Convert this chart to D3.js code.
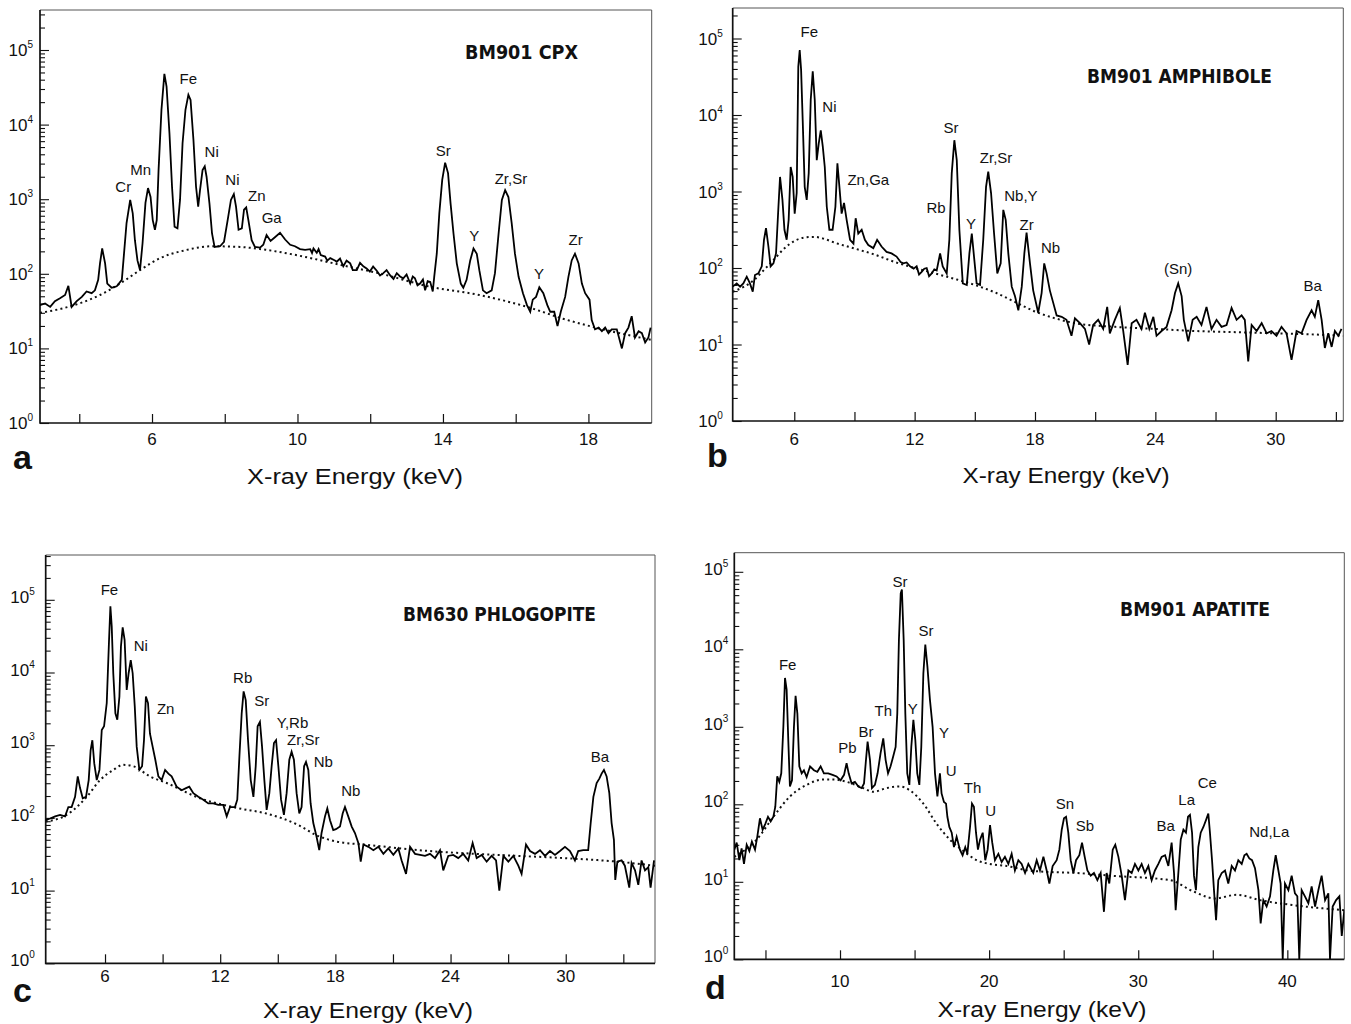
<!DOCTYPE html>
<html>
<head>
<meta charset="utf-8">
<script src="https://cdn.jsdelivr.net/npm/d3@7"></script>
<style>
  body { margin: 0; background: #fff; }
  svg text { font-family: "Liberation Sans", Arial, Helvetica, sans-serif; fill: #111; }
</style>
</head>
<body>
<svg id="fig" width="1351" height="1024"></svg>
<script>
// ---- data: [keV, counts] ----

// a) BM901 CPX
const cpxSpectrum = [[2.92,38],[3.06,40],[3.20,36],[3.33,43],[3.47,47],[3.61,52],[3.70,69],[3.79,36],[3.93,43],[4.07,49],[4.20,58],[4.34,55],[4.43,60],[4.52,83],[4.57,138],[4.63,219],[4.71,138],[4.77,74],[4.89,65],[5.03,68],[5.17,83],[5.23,186],[5.30,479],[5.40,977],[5.47,646],[5.53,282],[5.60,151],[5.67,112],[5.74,257],[5.82,891],[5.89,1410],[5.96,1070],[6.02,525],[6.08,389],[6.13,525],[6.18,2450],[6.26,15800],[6.34,47900],[6.40,32400],[6.48,7590],[6.55,1480],[6.62,427],[6.70,407],[6.77,977],[6.84,5620],[6.92,15800],[7.00,25100],[7.06,21400],[7.14,6170],[7.21,1480],[7.27,794],[7.32,1320],[7.39,2450],[7.45,2750],[7.50,2000],[7.58,871],[7.65,347],[7.72,229],[7.87,234],[7.98,269],[8.08,525],[8.17,977],[8.25,1170],[8.31,794],[8.38,389],[8.47,407],[8.53,724],[8.59,776],[8.65,525],[8.74,282],[8.83,229],[8.97,224],[9.06,245],[9.15,331],[9.26,275],[9.38,309],[9.52,355],[9.66,288],[9.80,245],[9.93,234],[10.07,214],[10.21,209],[10.35,214],[10.40,190],[10.44,219],[10.53,191],[10.58,215],[10.64,178],[10.76,170],[10.82,150],[10.90,162],[11.03,151],[11.08,145],[11.17,160],[11.26,126],[11.35,150],[11.45,138],[11.52,112],[11.63,112],[11.72,140],[11.81,126],[11.90,118],[11.99,107],[12.08,125],[12.18,110],[12.27,95],[12.36,102],[12.45,112],[12.55,95],[12.64,85],[12.73,102],[12.82,92],[12.91,87],[13.00,98],[13.10,74],[13.17,92],[13.23,87],[13.30,70],[13.37,74],[13.45,84],[13.51,60],[13.58,80],[13.65,78],[13.72,58],[13.76,91],[13.83,186],[13.90,646],[13.98,1820],[14.06,3090],[14.14,2240],[14.21,871],[14.29,347],[14.38,138],[14.49,74],[14.56,65],[14.65,83],[14.75,151],[14.84,219],[14.93,186],[15.00,112],[15.10,60],[15.20,55],[15.34,60],[15.43,102],[15.53,347],[15.62,977],[15.71,1320],[15.80,1070],[15.89,479],[15.98,186],[16.08,91],[16.20,55],[16.31,38],[16.40,31],[16.47,45],[16.56,49],[16.65,66],[16.76,55],[16.87,38],[16.95,31],[17.06,31],[17.15,20],[17.24,31],[17.36,49],[17.45,91],[17.54,151],[17.63,186],[17.73,138],[17.82,74],[17.91,55],[18.03,45],[18.09,24],[18.18,18],[18.28,19],[18.37,17],[18.46,19],[18.55,16],[18.64,18],[18.78,18],[18.92,10],[19.01,16],[19.10,19],[19.19,27],[19.28,14],[19.38,17],[19.47,16],[19.56,12],[19.65,14],[19.71,19]];
const cpxBackground = [[2.92,30],[3.5,34],[4.0,40],[4.57,52],[5.12,74],[5.67,112],[6.22,162],[6.86,204],[7.69,234],[8.42,229],[9.15,209],[10.07,174],[11.17,132],[12.3,100],[13.65,67],[15.0,52],[16.4,35],[17.3,25],[18.2,19],[19.74,13]];
const cpxLabels = [["Cr",5.21,1260],["Mn",5.69,2090],["Fe",7.00,35500],["Ni",7.64,3630],["Ni",8.21,1550],["Zn",8.88,933],["Ga",9.29,479],["Sr",14.01,3800],["Y",14.86,275],["Zr,Sr",15.87,1580],["Y",16.64,85],["Zr",17.65,245]];
const cpxTicks = [4,6,8,10,12,14,16,18];
const cpxTickLabels = [6,10,14,18];

// b) BM901 AMPHIBOLE
const amphSpectrum = [[2.93,57],[3.13,63],[3.30,57],[3.46,63],[3.63,77],[3.79,63],[3.93,49],[4.04,81],[4.21,85],[4.38,105],[4.49,234],[4.59,331],[4.71,191],[4.82,105],[4.96,115],[5.09,155],[5.21,631],[5.29,1550],[5.41,776],[5.51,316],[5.62,234],[5.72,427],[5.82,2090],[5.92,1550],[6.02,513],[6.12,955],[6.20,42700],[6.27,70800],[6.34,38900],[6.42,8510],[6.52,1150],[6.62,776],[6.72,1740],[6.82,15800],[6.92,37200],[7.02,15800],[7.12,2570],[7.22,4270],[7.32,6310],[7.42,3890],[7.52,2090],[7.62,631],[7.75,316],[7.91,316],[8.05,631],[8.15,2340],[8.25,1150],[8.36,513],[8.48,708],[8.61,427],[8.78,234],[8.95,209],[9.06,447],[9.19,282],[9.36,316],[9.52,234],[9.69,200],[9.94,182],[10.13,234],[10.35,191],[10.60,162],[10.85,155],[11.10,141],[11.30,120],[11.44,115],[11.60,118],[11.77,105],[11.95,98],[12.10,105],[12.22,82],[12.35,89],[12.48,98],[12.60,100],[12.72,78],[12.85,85],[12.98,96],[13.10,93],[13.27,155],[13.40,105],[13.60,85],[13.73,234],[13.85,1740],[13.98,4680],[14.10,2570],[14.23,316],[14.40,63],[14.60,60],[14.73,155],[14.85,282],[14.96,141],[15.09,63],[15.26,60],[15.42,234],[15.56,1150],[15.67,1820],[15.81,955],[15.96,282],[16.12,85],[16.29,115],[16.42,575],[16.54,427],[16.67,155],[16.84,57],[17.00,43],[17.17,28],[17.34,57],[17.47,155],[17.58,290],[17.75,115],[17.91,51],[18.16,26],[18.33,47],[18.46,115],[18.58,85],[18.74,51],[18.91,35],[19.08,24],[19.33,23],[19.57,21],[19.82,13],[19.99,22],[20.24,19],[20.49,16],[20.70,10],[20.90,18],[21.15,21],[21.40,16],[21.60,31],[21.73,14],[21.98,21],[22.23,30],[22.40,15],[22.62,5.4],[22.82,19],[23.06,21],[23.31,16],[23.48,26],[23.70,16],[23.90,23],[24.06,13],[24.31,15],[24.56,17],[24.81,28],[24.98,47],[25.14,63],[25.31,43],[25.42,21],[25.64,11],[25.86,21],[26.06,23],[26.30,18],[26.55,31],[26.80,16],[27.05,21],[27.30,17],[27.55,18],[27.80,30],[28.05,21],[28.30,24],[28.46,21],[28.63,6],[28.80,18],[29.05,15],[29.30,19],[29.55,14],[29.79,15],[30.04,13],[30.29,17],[30.54,14],[30.79,6.3],[31.04,15],[31.29,14],[31.54,21],[31.79,28],[31.95,23],[32.12,38],[32.29,21],[32.45,9],[32.62,14],[32.79,9.3],[32.95,15],[33.12,13],[33.28,16]];
const amphBackground = [[2.93,49],[4.0,70],[4.5,95],[5.0,130],[5.5,180],[6.0,225],[6.5,250],[7.0,255],[7.5,240],[8.0,215],[9.0,180],[10.0,150],[11.0,120],[12.0,100],[13.0,85],[14.0,72],[15.0,60],[16.0,48],[17.0,36],[18.0,27],[19.0,22],[20.0,19],[22.0,17],[24.0,16],[26.0,15],[28.0,14.5],[30.0,14],[32.0,13.5],[33.37,13]];
const amphLabels = [["Fe",6.75,105000],["Ni",7.75,11000],["Zn,Ga",9.69,1230],["Rb",13.07,525],["Sr",13.81,5750],["Y",14.81,324],["Zr,Sr",16.06,2340],["Nb,Y",17.30,759],["Zr",17.58,316],["Nb",18.78,158],["(Sn)",25.14,83],["Ba",31.84,50]];
const amphTicks = [6,9,12,15,18,21,24,27,30,33];
const amphTickLabels = [6,12,18,24,30];

// c) BM630 PHLOGOPITE
const phlogSpectrum = [[2.91,93],[3.14,98],[3.40,105],[3.66,110],[3.92,105],[4.09,141],[4.26,141],[4.44,195],[4.58,372],[4.70,257],[4.84,186],[5.01,195],[5.15,331],[5.25,851],[5.34,1170],[5.44,562],[5.57,331],[5.71,457],[5.83,1620],[5.95,1820],[6.09,3800],[6.21,28200],[6.28,81300],[6.35,42700],[6.43,9770],[6.54,2750],[6.64,2240],[6.75,4680],[6.83,22900],[6.92,41700],[7.02,28200],[7.13,5750],[7.23,9770],[7.34,14800],[7.44,9770],[7.55,3390],[7.65,955],[7.79,457],[7.93,513],[8.03,1170],[8.13,4680],[8.24,3800],[8.34,1450],[8.48,955],[8.62,631],[8.78,372],[8.95,331],[9.13,457],[9.30,407],[9.47,372],[9.73,269],[9.99,240],[10.22,257],[10.39,269],[10.60,219],[10.86,195],[11.12,178],[11.38,158],[11.64,158],[11.90,151],[12.16,151],[12.34,105],[12.51,141],[12.77,141],[12.89,178],[13.00,692],[13.12,2750],[13.22,5500],[13.33,4170],[13.45,1170],[13.59,331],[13.73,195],[13.85,513],[13.95,1820],[14.07,2090],[14.18,955],[14.30,331],[14.42,129],[14.56,219],[14.68,513],[14.80,1070],[14.91,1170],[15.03,513],[15.17,178],[15.32,110],[15.46,219],[15.60,631],[15.72,813],[15.84,631],[15.98,219],[16.12,115],[16.24,141],[16.37,513],[16.47,589],[16.59,457],[16.71,158],[16.85,85],[17.02,55],[17.16,36],[17.28,62],[17.46,105],[17.58,135],[17.72,93],[17.89,68],[18.03,70],[18.24,76],[18.38,115],[18.50,141],[18.67,105],[18.85,76],[19.02,62],[19.20,45],[19.32,25],[19.46,43],[19.72,40],[19.98,36],[20.24,40],[20.50,32],[20.76,38],[21.02,31],[21.28,38],[21.45,26],[21.68,17],[21.89,40],[22.15,32],[22.41,31],[22.67,30],[22.93,32],[23.19,28],[23.45,36],[23.62,19],[23.88,30],[24.14,31],[24.40,28],[24.66,32],[24.92,26],[25.15,45],[25.36,28],[25.62,31],[25.88,25],[26.14,30],[26.37,26],[26.54,10],[26.75,30],[27.01,25],[27.27,30],[27.53,22],[27.70,17],[27.93,43],[28.14,35],[28.40,32],[28.66,36],[28.92,30],[29.18,35],[29.44,31],[29.70,35],[29.96,40],[30.22,35],[30.48,26],[30.65,35],[30.91,36],[31.17,36],[31.30,85],[31.44,195],[31.61,302],[31.75,347],[31.87,407],[31.99,457],[32.13,372],[32.27,219],[32.39,85],[32.51,50],[32.58,14],[32.69,25],[32.91,26],[33.08,22],[33.31,11],[33.43,24],[33.61,19],[33.78,12],[33.95,26],[34.13,19],[34.30,21],[34.42,11],[34.60,26]];
const phlogBackground = [[2.91,89],[4.0,110],[5.05,195],[5.74,331],[6.43,457],[6.95,537],[7.48,513],[8.34,372],[9.21,302],[10.95,186],[12.68,141],[13.0,135],[14.4,115],[16.1,79],[17.0,58],[18.1,47],[19.5,43],[22.9,35],[26.4,31],[29.9,28],[32.7,25],[34.65,22]];
const phlogLabels = [["Fe",6.23,117000],["Ni",7.86,20000],["Zn",9.16,2690],["Rb",13.17,7080],["Sr",14.16,3470],["Y,Rb",15.77,1700],["Zr,Sr",16.33,1000],["Nb",17.37,501],["Nb",18.80,200],["Ba",31.78,589]];
const phlogTicks = [6,9,12,15,18,21,24,27,30,33];
const phlogTickLabels = [6,12,18,24,30];

// d) BM901 APATITE
const apatSpectrum = [[2.91,26],[3.07,32],[3.25,19],[3.40,27],[3.56,17],[3.74,30],[3.92,25],[4.09,33],[4.30,26],[4.45,38],[4.63,66],[4.81,47],[4.99,56],[5.17,69],[5.35,60],[5.53,69],[5.66,93],[5.79,229],[5.93,195],[6.06,251],[6.20,1000],[6.31,4270],[6.42,3020],[6.53,676],[6.64,170],[6.78,204],[6.91,1000],[7.02,2510],[7.14,1480],[7.27,309],[7.43,251],[7.58,275],[7.76,224],[7.99,309],[8.25,275],[8.48,263],[8.70,309],[8.92,251],[9.21,251],[9.50,240],[9.77,229],[10.04,204],[10.27,240],[10.44,339],[10.58,251],[10.78,186],[11.00,195],[11.23,170],[11.45,162],[11.61,186],[11.74,372],[11.85,646],[12.01,372],[12.14,162],[12.34,178],[12.52,251],[12.72,457],[12.90,708],[13.06,372],[13.22,251],[13.39,309],[13.57,417],[13.73,550],[13.84,1480],[13.95,13200],[14.07,52500],[14.15,58900],[14.27,13200],[14.38,1480],[14.51,251],[14.65,178],[14.78,550],[14.92,1230],[15.05,676],[15.18,251],[15.32,178],[15.45,550],[15.59,4900],[15.72,11500],[15.86,6030],[16.03,2240],[16.21,1000],[16.37,251],[16.53,126],[16.70,251],[16.81,138],[16.97,107],[17.11,102],[17.20,69],[17.33,51],[17.49,43],[17.64,28],[17.82,38],[18.04,26],[18.22,22],[18.40,28],[18.54,23],[18.72,51],[18.85,102],[18.98,93],[19.12,43],[19.25,26],[19.39,35],[19.57,43],[19.74,19],[19.90,26],[20.06,54],[20.21,32],[20.39,19],[20.62,23],[20.84,18],[21.06,21],[21.29,17],[21.51,23],[21.73,14],[21.96,19],[22.18,17],[22.41,13],[22.63,17],[22.96,13],[23.19,19],[23.41,14],[23.64,21],[23.86,14],[24.04,9.5],[24.26,16],[24.53,19],[24.71,26],[24.87,47],[25.02,66],[25.16,69],[25.31,43],[25.47,19],[25.65,13],[25.83,19],[26.05,22],[26.23,32],[26.41,21],[26.59,14],[26.81,12],[27.03,13],[27.26,10.5],[27.48,13],[27.70,4.1],[27.88,13],[28.06,9.5],[28.29,26],[28.46,30],[28.67,21],[28.89,12],[29.11,5.8],[29.34,14],[29.56,13],[29.78,17],[30.01,14],[30.23,17],[30.45,13],[30.68,16],[30.90,10.5],[31.12,14],[31.35,17],[31.57,21],[31.80,22],[32.02,16],[32.24,32],[32.40,13],[32.51,4.3],[32.69,13],[32.85,35],[33.03,47],[33.20,43],[33.34,69],[33.47,73],[33.61,43],[33.74,12],[33.87,7.8],[34.03,28],[34.19,43],[34.37,51],[34.55,63],[34.70,76],[34.81,43],[34.95,19],[35.08,7.8],[35.22,3.2],[35.37,10.5],[35.60,13],[35.82,14],[36.04,9.5],[36.27,16],[36.49,14],[36.71,19],[36.94,17],[37.12,22],[37.27,23],[37.45,20],[37.63,19],[37.83,15],[38.06,7.8],[38.21,2.9],[38.39,5.8],[38.61,4.8],[38.84,6.5],[39.06,14],[39.22,22],[39.40,14],[39.55,9.5],[39.69,1],[39.84,9.5],[40.07,7.8],[40.29,12],[40.51,7.1],[40.67,6.5],[40.80,1],[40.96,7.8],[41.18,6.5],[41.41,5.3],[41.63,8.7],[41.86,4.8],[42.08,7.8],[42.30,12],[42.53,5.8],[42.75,7.1],[42.86,1],[43.04,4.8],[43.27,5.8],[43.49,6.5],[43.65,2],[43.82,4.3]];
const apatBackground = [[2.91,21],[4.41,35],[5.53,69],[6.64,126],[7.76,178],[8.88,209],[9.55,209],[10.44,195],[11.56,162],[12.23,145],[13.13,162],[14.02,170],[14.69,151],[15.59,102],[16.48,56],[17.37,35],[18.27,25],[19.16,19],[20.06,17],[21.18,16],[22.63,14],[23.64,13.5],[25.87,13],[28.11,12],[32.13,10.5],[33.7,7.5],[35.15,6.1],[36.6,6.8],[38.17,5.8],[40.4,5],[43.8,4.3]];
const apatLabels = [["Fe",6.49,5370],["Pb",10.49,457],["Br",11.74,741],["Th",12.90,1380],["Sr",14.02,64600],["Y",14.87,1480],["Sr",15.76,14800],["Y",16.97,724],["U",17.46,229],["Th",18.89,138],["U",20.10,71],["Sn",25.09,87],["Sb",26.43,45],["Ba",31.84,45],["La",33.25,98],["Ce",34.63,162],["Nd,La",38.79,38]];
const apatTicks = [5,10,15,20,25,30,35,40];
const apatTickLabels = [10,20,30,40];

// ---- layout of the four panels ----
const panels = [
  { letter: "a", title: "BM901 CPX", spectrum: cpxSpectrum, background: cpxBackground, labels: cpxLabels,
    ticks: cpxTicks, tickLabels: cpxTickLabels, xDomain: [2.92, 19.74],
    left: 40, right: 651.7, top: 10, bottom: 423, y5: 50, tickLabelY: 445, yLabelGap: 7, yLabelDy: 6,
    titleX: 465, titleY: 59, titleW: 113, letterX: 13, letterY: 469, axisX: 355, axisY: 484, axisW: 216 },
  { letter: "b", title: "BM901 AMPHIBOLE", spectrum: amphSpectrum, background: amphBackground, labels: amphLabels,
    ticks: amphTicks, tickLabels: amphTickLabels, xDomain: [2.93, 33.37],
    left: 732.7, right: 1343.3, top: 8, bottom: 421, y5: 38.5, tickLabelY: 445, yLabelGap: 10, yLabelDy: 6,
    titleX: 1087, titleY: 83, titleW: 185, letterX: 707, letterY: 467, axisX: 1066, axisY: 483, axisW: 207 },
  { letter: "c", title: "BM630 PHLOGOPITE", spectrum: phlogSpectrum, background: phlogBackground, labels: phlogLabels,
    ticks: phlogTicks, tickLabels: phlogTickLabels, xDomain: [2.91, 34.65],
    left: 45.7, right: 655, top: 555, bottom: 963.3, y5: 599.8, tickLabelY: 982, yLabelGap: 11, yLabelDy: 3,
    titleX: 403, titleY: 621, titleW: 193, letterX: 13, letterY: 1002, axisX: 368, axisY: 1018, axisW: 210 },
  { letter: "d", title: "BM901 APATITE", spectrum: apatSpectrum, background: apatBackground, labels: apatLabels,
    ticks: apatTicks, tickLabels: apatTickLabels, xDomain: [2.91, 43.82],
    left: 734.3, right: 1344.3, top: 552.7, bottom: 959.3, y5: 571.8, tickLabelY: 987, yLabelGap: 6, yLabelDy: 3,
    titleX: 1120, titleY: 616, titleW: 150, letterX: 705, letterY: 999, axisX: 1042, axisY: 1017, axisW: 209 }
];

const svg = d3.select("#fig");

function isPow10(v) {
  const l = Math.log10(v);
  return Math.abs(l - Math.round(l)) < 1e-9;
}

function drawPanel(p) {
  const g = svg.append("g").attr("class", "panel-" + p.letter);

  const x = d3.scaleLinear().domain(p.xDomain).range([p.left, p.right]);
  const y = d3.scaleLog().domain([1, 1e5]).range([p.bottom, p.y5]);
  const yMax = y.invert(p.top);

  // clip to plot area
  const clipId = "clip-" + p.letter;
  g.append("clipPath").attr("id", clipId)
    .append("rect")
    .attr("x", p.left).attr("y", p.top)
    .attr("width", p.right - p.left).attr("height", p.bottom - p.top);

  // thin frame on top and right
  g.append("path")
    .attr("d", `M${p.left},${p.top}H${p.right}V${p.bottom}`)
    .attr("fill", "none").attr("stroke", "#555").attr("stroke-width", 1);

  // y axis ticks (inside), log minor ticks
  const yTickVals = y.copy().domain([1, yMax]).ticks().filter(v => v <= yMax);
  const yAxis = g.append("g")
    .attr("transform", `translate(${p.left},0)`)
    .call(d3.axisRight(y).tickValues(yTickVals).tickSize(5).tickFormat(""));
  yAxis.select(".domain").remove();
  yAxis.selectAll(".tick line")
    .attr("x2", d => isPow10(d) ? 9 : 5)
    .attr("stroke", "#111").attr("stroke-width", 1.1);

  // y labels 10^n
  const powers = yTickVals.filter(isPow10);
  const yl = g.selectAll(".ylab").data(powers).enter().append("text")
    .attr("class", "ylab")
    .attr("x", p.left - p.yLabelGap)
    .attr("y", d => y(d) + p.yLabelDy)
    .attr("text-anchor", "end");
  yl.append("tspan").attr("font-size", 17).text("10");
  yl.append("tspan").attr("font-size", 10).attr("dy", -8).text(d => Math.round(Math.log10(d)));

  // x axis ticks (inside)
  const xAxis = g.append("g")
    .attr("transform", `translate(0,${p.bottom})`)
    .call(d3.axisTop(x).tickValues(p.ticks).tickSize(9).tickFormat(""));
  xAxis.select(".domain").remove();
  xAxis.selectAll(".tick line").attr("stroke", "#111").attr("stroke-width", 1.2);

  g.selectAll(".xlab").data(p.tickLabels).enter().append("text")
    .attr("class", "xlab")
    .attr("x", d => x(d))
    .attr("y", p.tickLabelY)
    .attr("text-anchor", "middle")
    .attr("font-size", 17)
    .text(d => d);

  // main axis lines
  g.append("path")
    .attr("d", `M${p.left},${p.top}V${p.bottom}H${p.right}`)
    .attr("fill", "none").attr("stroke", "#111").attr("stroke-width", 1.7);

  const line = d3.line()
    .x(d => x(d[0]))
    .y(d => y(d[1]));

  const plot = g.append("g").attr("clip-path", `url(#${clipId})`);

  // dotted background continuum
  plot.append("path")
    .datum(p.background)
    .attr("d", line.curve(d3.curveMonotoneX))
    .attr("fill", "none")
    .attr("stroke", "#111")
    .attr("stroke-width", 2)
    .attr("stroke-dasharray", "2,3.2");

  // measured spectrum
  plot.append("path")
    .datum(p.spectrum)
    .attr("d", line.curve(d3.curveLinear))
    .attr("fill", "none")
    .attr("stroke", "#000")
    .attr("stroke-width", 1.8);

  // peak labels
  g.selectAll(".peak").data(p.labels).enter().append("text")
    .attr("class", "peak")
    .attr("x", d => x(d[1]))
    .attr("y", d => y(d[2]))
    .attr("text-anchor", "middle")
    .attr("font-size", 15)
    .text(d => d[0]);

  // sample title
  g.append("text")
    .attr("x", p.titleX).attr("y", p.titleY)
    .attr("font-size", 19).attr("font-weight", 900)
    .attr("textLength", p.titleW).attr("lengthAdjust", "spacingAndGlyphs")
    .style("font-family", '"Liberation Sans Narrow", "DejaVu Sans Condensed", "Liberation Sans", Arial, sans-serif')
    .text(p.title);

  // panel letter
  g.append("text")
    .attr("x", p.letterX).attr("y", p.letterY)
    .attr("font-size", 34).attr("font-weight", 700)
    .text(p.letter);

  // axis title
  g.append("text")
    .attr("x", p.axisX - p.axisW / 2).attr("y", p.axisY)
    .attr("font-size", 22)
    .attr("textLength", p.axisW).attr("lengthAdjust", "spacingAndGlyphs")
    .text("X-ray Energy (keV)");
}

panels.forEach(drawPanel);
</script>
</body>
</html>
